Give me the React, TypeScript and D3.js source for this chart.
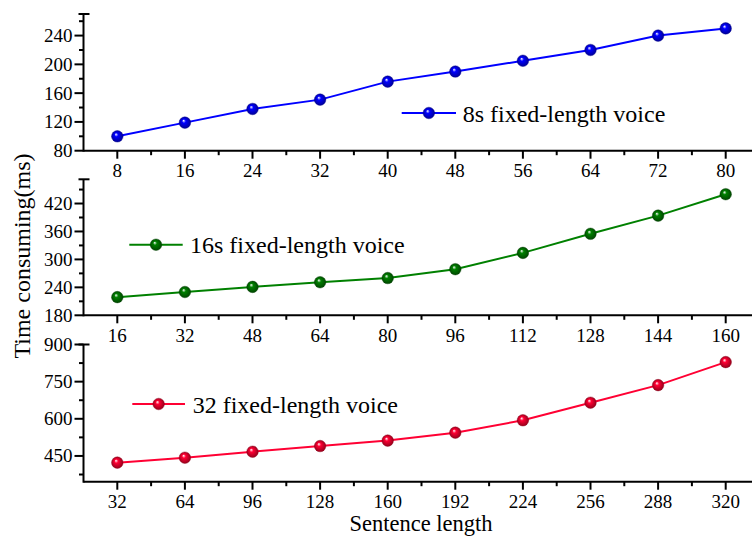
import React from "react";
import * as d3 from "d3";

const x1 = [8, 16, 24, 32, 40, 48, 56, 64, 72, 80];
const y1 = [100, 119, 138, 151, 176, 190, 205, 220, 240, 250];
const x2 = [16, 32, 48, 64, 80, 96, 112, 128, 144, 160];
const y2 = [219, 230, 241, 251, 260, 279, 314, 355, 394, 440];
const x3 = [32, 64, 96, 128, 160, 192, 224, 256, 288, 320];
const y3 = [423, 443, 467, 490, 512, 544, 594, 665, 736, 829];

const yMajor1 = [80, 120, 160, 200, 240];
const yMinor1 = [100, 140, 180, 220, 260];
const yMajor2 = [180, 240, 300, 360, 420];
const yMinor2 = [210, 270, 330, 390, 450];
const yMajor3 = [450, 600, 750, 900];
const yMinor3 = [375, 525, 675, 825];

const labels = ["8s fixed-length voice", "16s fixed-length voice", "32 fixed-length voice"];
const colors = ["#0000ff", "#008000", "#ff0033"];
const darks = ["#00008a", "#004000", "#8a0018"];

const FONT = "Liberation Serif, Times New Roman, Times, DejaVu Serif, serif";
const AXX = 83.5;
const AXX_END = 759.5;

type Panel = {
  xs: number[]; ys: number[]; xDom: [number, number]; yDom: [number, number];
  yRange: [number, number]; yMajor: number[]; yMinor: number[];
  legend: { x0: number; x1: number; y: number; tx: number };
};

const panels: Panel[] = [
  { xs: x1, ys: y1, xDom: [4, 84], yDom: [80, 270], yRange: [150.7, 14], yMajor: yMajor1, yMinor: yMinor1,
    legend: { x0: 401.7, x1: 456, y: 113, tx: 462.7 } },
  { xs: x2, ys: y2, xDom: [8, 168], yDom: [180, 472], yRange: [315.3, 179.3], yMajor: yMajor2, yMinor: yMinor2,
    legend: { x0: 129.3, x1: 182.7, y: 244.7, tx: 190 } },
  { xs: x3, ys: y3, xDom: [16, 336], yDom: [346, 900], yRange: [481.7, 344.5], yMajor: yMajor3, yMinor: yMinor3,
    legend: { x0: 132.3, x1: 185, y: 404, tx: 192.7 } },
];

const textStyle = { fontFamily: FONT };

function Marker({ cx, cy, i }: { cx: number; cy: number; i: number }) {
  return <circle cx={cx} cy={cy} r={5.8} fill={`url(#sph${i})`} stroke={darks[i]} strokeWidth={0.4} />;
}

function PanelG({ p, i }: { p: Panel; i: number }) {
  const x = d3.scaleLinear().domain(p.xDom).range([AXX, AXX_END]);
  const y = d3.scaleLinear().domain(p.yDom).range(p.yRange);
  const step = p.xs[1] - p.xs[0];
  const xMinor = p.xs.map((v) => v + step / 2).concat([p.xs[0] - step / 2]).filter((v) => v > p.xDom[0]);
  const line = d3.line<number>().x((_, k) => x(p.xs[k])).y((d) => y(d));
  const axisY = p.yRange[0];
  const top = p.yRange[1];
  return (
    <g>
      <line x1={AXX} x2={AXX_END} y1={axisY} y2={axisY} stroke="#000" strokeWidth={2} />
      {p.xs.map((v) => (
        <g key={"xm" + v}>
          <line x1={x(v)} x2={x(v)} y1={axisY} y2={axisY + 8} stroke="#000" strokeWidth={2} />
          <text x={x(v)} y={axisY + 26.5} textAnchor="middle" fontSize={19} style={textStyle}>{v}</text>
        </g>
      ))}
      {xMinor.map((v) => (
        <line key={"xn" + v} x1={x(v)} x2={x(v)} y1={axisY} y2={axisY + 4.5} stroke="#000" strokeWidth={2} />
      ))}
      <line x1={AXX} x2={AXX} y1={top} y2={axisY + 1} stroke="#000" strokeWidth={2} />
      <line x1={AXX - 5} x2={AXX + 6} y1={top} y2={top} stroke="#000" strokeWidth={2} />
      {p.yMajor.map((v) => (
        <g key={"ym" + v}>
          <line x1={AXX - 9} x2={AXX} y1={y(v)} y2={y(v)} stroke="#000" strokeWidth={2} />
          <text x={AXX - 11} y={y(v) + 6.5} textAnchor="end" fontSize={19} style={textStyle}>{v}</text>
        </g>
      ))}
      {p.yMinor.map((v) => (
        <line key={"yn" + v} x1={AXX - 4.5} x2={AXX} y1={y(v)} y2={y(v)} stroke="#000" strokeWidth={2} />
      ))}
      <path d={line(p.ys) || ""} fill="none" stroke={colors[i]} strokeWidth={2} />
      {p.ys.map((v, k) => (
        <Marker key={k} cx={x(p.xs[k])} cy={y(v)} i={i} />
      ))}
      <line x1={p.legend.x0} x2={p.legend.x1} y1={p.legend.y} y2={p.legend.y} stroke={colors[i]} strokeWidth={2} />
      <Marker cx={(p.legend.x0 + p.legend.x1) / 2} cy={p.legend.y} i={i} />
      <text x={p.legend.tx} y={p.legend.y + 8.5} fontSize={24} style={textStyle}>{labels[i]}</text>
    </g>
  );
}

export default function App() {
  return (
    <svg width={752} height={536} style={{ position: "absolute", left: 0, top: 0, background: "#fff" }}>
      <defs>
        {colors.map((c, i) => (
          <radialGradient key={i} id={`sph${i}`} cx="0.5" cy="0.5" r="0.55" fx="0.38" fy="0.32">
            <stop offset="0%" stopColor="#ffffff" />
            <stop offset="30%" stopColor={c} />
            <stop offset="100%" stopColor={darks[i]} />
          </radialGradient>
        ))}
      </defs>
      <rect width={752} height={536} fill="#fff" />
      {panels.map((p, i) => <PanelG key={i} p={p} i={i} />)}
      <text transform="translate(30,256) rotate(-90)" textAnchor="middle" fontSize={24} style={textStyle}>Time consuming(ms)</text>
      <text x={421} y={531} textAnchor="middle" fontSize={22.5} style={textStyle}>Sentence length</text>
    </svg>
  );
}
